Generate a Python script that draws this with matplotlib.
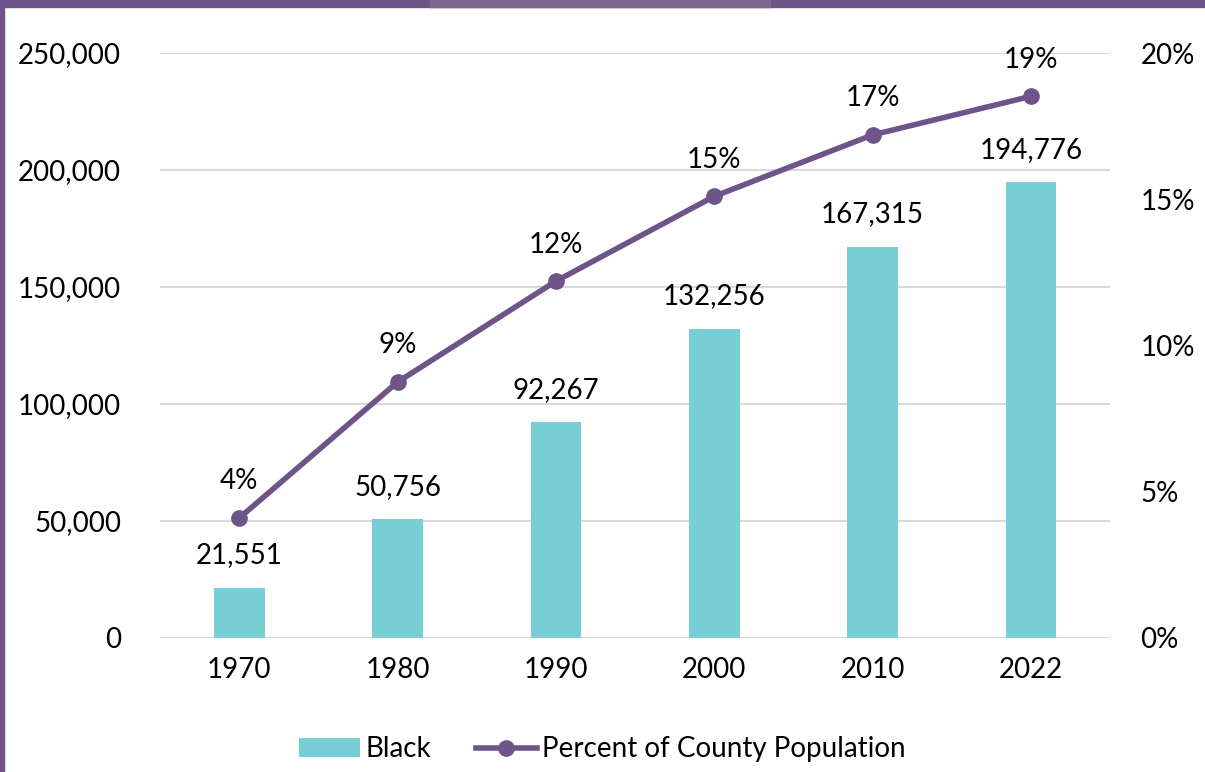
import matplotlib.pyplot as plt
from matplotlib.patches import Rectangle
from matplotlib.ticker import FuncFormatter
import numpy as np

years = ["1970", "1980", "1990", "2000", "2010", "2022"]
black_pop = [21551, 50756, 92267, 132256, 167315, 194776]
pct_county = [4.1, 8.75, 12.2, 15.1, 17.2, 18.52]

bar_color = "#77CED4"
line_color = "#6E5488"

plt.rcParams['font.family'] = ['Lato', 'DejaVu Sans']
plt.rcParams['font.size'] = 20

fig = plt.figure(figsize=(12.05, 7.72), dpi=100)
ax = fig.add_axes([0.1328, 0.1736, 0.7884, 0.7577])
ax2 = ax.twinx()

x = np.arange(len(years))
bars = ax.bar(x, black_pop, 0.32, color=bar_color, label="Black", zorder=2)
for xi, v in zip(x, black_pop):
    ax.annotate(f"{v:,}", (xi, v), xytext=(0, 14), textcoords="offset points",
                ha="center", va="bottom", fontsize=20)

ax.set_xlim(-0.5, len(years) - 0.5)
ax.set_ylim(0, 250000)
ax.set_yticks(np.arange(0, 250001, 50000))
ax.yaxis.set_major_formatter(FuncFormatter(lambda v, p: f"{int(v):,}"))
ax.set_xticks(x)
ax.set_xticklabels(years)
ax.grid(axis="y", color="#d9d9d9", linewidth=1.5, zorder=0)
ax.set_axisbelow(True)

line, = ax2.plot(x, pct_county, color=line_color, linewidth=4, marker="o",
                 markersize=11, label="Percent of County Population", zorder=3)
for xi, v in zip(x, pct_county):
    ax2.annotate(f"{v:.0f}%", (xi, v), xytext=(0, 17), textcoords="offset points",
                 ha="center", va="bottom", fontsize=20)
ax2.set_ylim(0, 20)
ax2.set_yticks(np.arange(0, 21, 5))
ax2.yaxis.set_major_formatter(FuncFormatter(lambda v, p: f"{int(v)}%"))

for a in (ax, ax2):
    for s in a.spines.values():
        s.set_visible(False)
    a.tick_params(length=0)
ax.tick_params(axis="y", pad=28)
ax.tick_params(axis="x", pad=14)
ax2.tick_params(axis="y", pad=22)

fig.legend(handles=[bars, line], loc="lower center", bbox_to_anchor=(0.5, -0.02),
           ncol=2, frameon=False, fontsize=20, handlelength=2.2, handletextpad=0.2,
           columnspacing=1.6)

# purple frame bits
fig.patches.append(Rectangle((0, 1 - 7 / 772), 1, 7 / 772, transform=fig.transFigure,
                             color="#6E5488", zorder=10))
fig.patches.append(Rectangle((430 / 1205, 1 - 7 / 772), 340 / 1205, 7 / 772,
                             transform=fig.transFigure, color="#7F6690", zorder=11))
fig.patches.append(Rectangle((0, 0), 4 / 1205, 1, transform=fig.transFigure,
                             color="#6E5488", zorder=10))

fig.savefig("out.png", dpi=100)
